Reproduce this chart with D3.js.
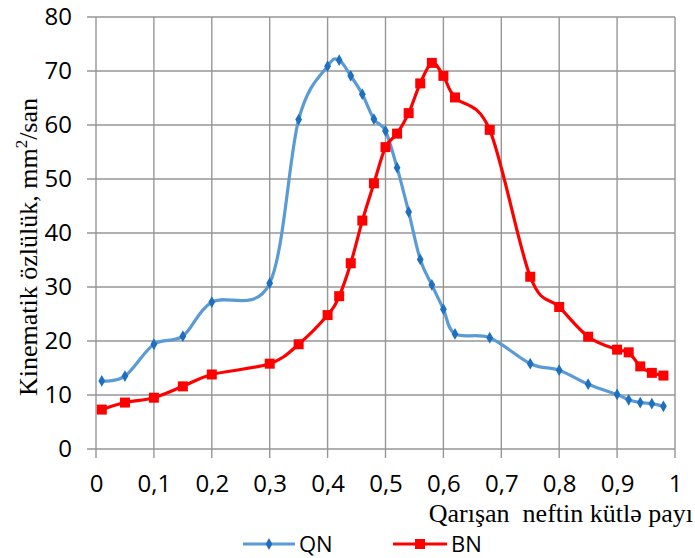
<!DOCTYPE html>
<html>
<head>
<meta charset="utf-8">
<script src="https://cdn.jsdelivr.net/npm/d3@7"></script>
<style>
  body { margin: 0; background: #fff; }
  svg { display: block; }
</style>
</head>
<body>
<script>
// data
var xTicks = [0, 0.1, 0.2, 0.3, 0.4, 0.5, 0.6, 0.7, 0.8, 0.9, 1];
var yTicks = [0, 10, 20, 30, 40, 50, 60, 70, 80];

var qnX = [0.01, 0.05, 0.1, 0.15, 0.2, 0.3, 0.35, 0.4, 0.42, 0.44, 0.46, 0.48, 0.5, 0.52, 0.54, 0.56, 0.58, 0.6, 0.62, 0.68, 0.75, 0.8, 0.85, 0.9, 0.92, 0.94, 0.96, 0.98];
var qnY = [12.6, 13.5, 19.4, 20.9, 27.2, 30.7, 61.0, 70.9, 72.0, 69.1, 65.7, 61.1, 58.9, 52.1, 43.9, 35.1, 30.4, 25.9, 21.3, 20.6, 15.8, 14.6, 12.0, 10.1, 9.1, 8.6, 8.4, 7.9];

var bnX = [0.01, 0.05, 0.1, 0.15, 0.2, 0.3, 0.35, 0.4, 0.42, 0.44, 0.46, 0.48, 0.5, 0.52, 0.54, 0.56, 0.58, 0.6, 0.62, 0.68, 0.75, 0.8, 0.85, 0.9, 0.92, 0.94, 0.96, 0.98];
var bnY = [7.3, 8.6, 9.5, 11.6, 13.8, 15.8, 19.4, 24.8, 28.3, 34.4, 42.3, 49.2, 55.9, 58.4, 62.2, 67.7, 71.5, 69.1, 65.1, 59.1, 31.9, 26.3, 20.8, 18.4, 17.9, 15.3, 14.1, 13.6];

var svgWidth = 695, svgHeight = 558;
var margin = {top: 17, right: 20, bottom: 109, left: 96},
    width = 675 - margin.left,
    height = 449 - margin.top;

var gridColor = "#969696";
var tickFont = "'Open Sans', 'Liberation Sans', sans-serif";
var titleFont = "'Liberation Serif', 'DejaVu Serif', serif";

var svg = d3.select("body").append("svg")
    .attr("width", svgWidth)
    .attr("height", svgHeight);

var g = svg.append("g")
    .attr("transform", "translate(" + margin.left + "," + margin.top + ")");

var x = d3.scaleLinear().domain([0, 1]).range([0, width]);
var y = d3.scaleLinear().domain([0, 80]).range([height, 0]);

// grid
g.append("g")
  .selectAll("line")
  .data(xTicks)
  .enter().append("line")
    .attr("x1", function(d) { return x(d); })
    .attr("x2", function(d) { return x(d); })
    .attr("y1", 0)
    .attr("y2", height + 9)
    .attr("stroke", gridColor)
    .attr("stroke-width", 1.4);

g.append("g")
  .selectAll("line")
  .data(yTicks)
  .enter().append("line")
    .attr("x1", -9)
    .attr("x2", width)
    .attr("y1", function(d) { return y(d); })
    .attr("y2", function(d) { return y(d); })
    .attr("stroke", gridColor)
    .attr("stroke-width", 1.4);

// axes labels (lines hidden, grid does the job)
var xAxis = g.append("g")
    .attr("transform", "translate(0," + height + ")")
    .call(d3.axisBottom(x).tickValues(xTicks).tickSize(0).tickPadding(26)
      .tickFormat(function(d) { return String(d).replace(".", ","); }));
xAxis.select(".domain").remove();
xAxis.selectAll("text")
    .attr("font-family", tickFont)
    .attr("font-size", 24)
    .attr("fill", "#000");

var yAxis = g.append("g")
    .call(d3.axisLeft(y).tickValues(yTicks).tickSize(0).tickPadding(24));
yAxis.select(".domain").remove();
yAxis.selectAll("text")
    .attr("font-family", tickFont)
    .attr("font-size", 24)
    .attr("fill", "#000");

// smooth lines like excel
var line = d3.line()
    .x(function(d) { return x(d[0]); })
    .y(function(d) { return y(d[1]); })
    .curve(d3.curveCardinal.tension(0));

var qnData = qnX.map(function(v, i) { return [v, qnY[i]]; });
var bnData = bnX.map(function(v, i) { return [v, bnY[i]]; });

g.append("path")
    .datum(qnData)
    .attr("d", line)
    .attr("fill", "none")
    .attr("stroke", "#5B9BD5")
    .attr("stroke-width", 3.2);

var diamond = d3.symbol().type(d3.symbolDiamond).size(40);
g.append("g")
  .selectAll("path")
  .data(qnData)
  .enter().append("path")
    .attr("d", diamond)
    .attr("transform", function(d) { return "translate(" + x(d[0]) + "," + y(d[1]) + ")"; })
    .attr("fill", "#1F6FC0");

g.append("path")
    .datum(bnData)
    .attr("d", line)
    .attr("fill", "none")
    .attr("stroke", "#FF0000")
    .attr("stroke-width", 3.2);

g.append("g")
  .selectAll("rect")
  .data(bnData)
  .enter().append("rect")
    .attr("x", function(d) { return x(d[0]) - 5; })
    .attr("y", function(d) { return y(d[1]) - 5; })
    .attr("width", 10)
    .attr("height", 10)
    .attr("fill", "#FF0000");

// titles
svg.append("text")
    .attr("transform", "translate(37,247) rotate(-90)")
    .attr("text-anchor", "middle")
    .attr("font-family", titleFont)
    .attr("font-size", 26)
    .attr("fill", "#000")
    .html("Kinematik özlülük, mm<tspan dy='-10' font-size='17'>2</tspan><tspan dy='10'>/san</tspan>");

svg.append("text")
    .attr("x", 693)
    .attr("y", 522)
    .attr("text-anchor", "end")
    .attr("font-family", titleFont)
    .attr("font-size", 26)
    .attr("fill", "#000")
    .style("white-space", "pre")
    .text("Qarışan  neftin kütlə payı");

// legend
var legend = svg.append("g");
legend.append("line")
    .attr("x1", 243).attr("x2", 295).attr("y1", 544).attr("y2", 544)
    .attr("stroke", "#5B9BD5").attr("stroke-width", 3.2);
legend.append("path")
    .attr("d", diamond)
    .attr("transform", "translate(269,544)")
    .attr("fill", "#1F6FC0");
legend.append("text")
    .attr("x", 299).attr("y", 552)
    .attr("font-family", tickFont).attr("font-size", 22)
    .text("QN");

legend.append("line")
    .attr("x1", 393).attr("x2", 447).attr("y1", 544).attr("y2", 544)
    .attr("stroke", "#FF0000").attr("stroke-width", 3.2);
legend.append("rect")
    .attr("x", 415).attr("y", 539).attr("width", 10).attr("height", 10)
    .attr("fill", "#FF0000");
legend.append("text")
    .attr("x", 451).attr("y", 552)
    .attr("font-family", tickFont).attr("font-size", 22)
    .text("BN");
</script>
</body>
</html>
